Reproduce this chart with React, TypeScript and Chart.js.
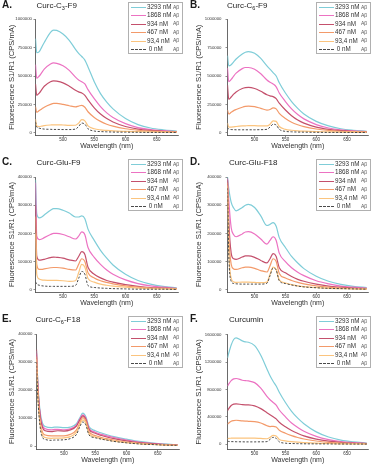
import React, { useEffect, useRef } from "react";
import { Chart, registerables } from "chart.js";
Chart.register(...registerables);

// ---------- data (fluorescence values in units of 1000 CPS/mA) ----------
const wavelengths = [456, 458, 462, 466, 470, 480, 485, 490, 500, 510, 520, 525, 530, 535, 540, 550, 560, 570, 580, 600, 620, 640, 660, 682];
const concLabels = ["3293 nM", "1868 nM", "934 nM", "467 nM", "93,4 nM", "0 nM"];
const seriesColors = ["#7fcdd8", "#ec72c2", "#c4506c", "#f39a6a", "#fbc47e", "#4a4a4a"];
const xTicks = [500, 550, 600, 650];
const yTicks1M = [0, 250000, 500000, 750000, 1000000];
const yTicks400k = [0, 100000, 200000, 300000, 400000];
const yTicks1600k = [0, 400000, 800000, 1200000, 1600000];

// A. Curc-C3-F9
const a3293 = [830, 705, 715, 755, 795, 885, 905, 902, 870, 815, 735, 700, 672, 640, 580, 450, 345, 270, 210, 125, 72, 42, 26, 15];
const a1868 = [600, 480, 500, 530, 560, 605, 615, 612, 590, 550, 490, 465, 450, 430, 380, 300, 230, 175, 135, 80, 45, 28, 18, 10];
const a934 = [430, 330, 350, 380, 410, 450, 458, 455, 440, 410, 375, 360, 350, 330, 290, 220, 165, 125, 95, 55, 32, 20, 13, 8];
const a467 = [230, 180, 195, 210, 225, 250, 258, 258, 250, 238, 228, 235, 242, 225, 185, 135, 100, 75, 58, 35, 22, 14, 9, 6];
const a93 = [120, 60, 55, 58, 62, 68, 70, 70, 68, 65, 66, 85, 115, 105, 60, 35, 25, 20, 16, 12, 9, 7, 5, 4];
const a0 = [95, 50, 40, 35, 32, 30, 29, 29, 28, 28, 32, 55, 85, 75, 35, 15, 10, 8, 6, 5, 4, 3, 3, 2];

// B. Curc-C6-F9
const b3293 = [680, 590, 600, 625, 650, 695, 710, 715, 700, 655, 590, 560, 530, 500, 440, 350, 275, 215, 165, 100, 60, 35, 22, 13];
const b1868 = [570, 450, 470, 500, 525, 565, 575, 575, 560, 520, 465, 445, 430, 405, 350, 275, 210, 160, 122, 72, 42, 25, 16, 10];
const b934 = [420, 295, 315, 340, 360, 390, 398, 400, 390, 365, 335, 325, 318, 300, 260, 200, 150, 112, 85, 50, 30, 18, 12, 8];
const b467 = [200, 165, 180, 195, 205, 225, 232, 235, 230, 215, 200, 205, 220, 210, 170, 125, 92, 70, 54, 33, 20, 13, 9, 6];
const b93 = [85, 50, 50, 52, 55, 60, 61, 62, 62, 60, 60, 75, 105, 100, 55, 30, 22, 17, 14, 10, 8, 6, 5, 4];
const b0 = [45, 32, 28, 27, 26, 26, 26, 26, 26, 27, 30, 50, 75, 68, 30, 12, 8, 6, 5, 4, 3, 3, 2, 2];

// C. Curc-Glu-F9
const c3293 = [390, 270, 255, 258, 265, 282, 288, 288, 282, 272, 258, 258, 262, 252, 215, 175, 140, 112, 88, 55, 33, 20, 12, 7];
const c1868 = [380, 190, 178, 180, 185, 196, 200, 200, 196, 188, 180, 190, 205, 195, 150, 115, 90, 70, 55, 35, 22, 14, 9, 5];
const c934 = [300, 120, 105, 106, 108, 114, 116, 115, 112, 106, 102, 118, 135, 125, 80, 55, 42, 33, 27, 18, 12, 8, 6, 4];
const c467 = [260, 90, 72, 72, 74, 78, 79, 79, 77, 72, 70, 90, 110, 100, 60, 42, 32, 26, 21, 14, 9, 6, 5, 3];
const c93 = [200, 55, 38, 35, 34, 33, 33, 33, 32, 30, 32, 60, 90, 80, 40, 27, 20, 16, 13, 9, 6, 4, 3, 2];
const c0 = [28, 20, 16, 14, 13, 12, 12, 12, 12, 12, 15, 40, 65, 55, 15, 8, 6, 5, 4, 3, 2, 2, 2, 1];

// D. Curc-Glu-F18
const d3293 = [400, 360, 310, 290, 280, 292, 300, 303, 292, 262, 228, 232, 238, 225, 185, 150, 118, 95, 75, 48, 30, 19, 12, 8];
const d1868 = [395, 320, 220, 195, 188, 198, 205, 206, 198, 180, 162, 175, 188, 175, 130, 100, 78, 62, 50, 32, 21, 13, 9, 6];
const d934 = [390, 250, 130, 110, 108, 116, 120, 120, 115, 104, 95, 110, 128, 118, 78, 60, 47, 37, 30, 20, 13, 9, 6, 4];
const d467 = [380, 200, 90, 74, 72, 78, 80, 80, 76, 68, 63, 85, 110, 100, 58, 42, 33, 26, 21, 14, 9, 6, 4, 3];
const d93 = [370, 150, 40, 28, 26, 27, 27, 27, 26, 25, 27, 55, 80, 72, 35, 24, 18, 14, 11, 8, 5, 4, 3, 2];
const d0 = [360, 130, 30, 22, 21, 20, 20, 20, 20, 20, 23, 50, 77, 70, 32, 22, 17, 13, 10, 7, 5, 4, 3, 2];

// E. Curc-C6-F18
const e3293 = [340, 230, 120, 80, 70, 66, 68, 68, 66, 68, 80, 100, 118, 105, 70, 55, 47, 40, 34, 25, 17, 12, 8, 5];
const e1868 = [330, 220, 110, 72, 62, 58, 60, 60, 58, 62, 75, 96, 112, 100, 64, 50, 42, 36, 31, 22, 15, 10, 7, 4];
const e934 = [345, 225, 105, 65, 55, 52, 54, 55, 54, 58, 72, 92, 108, 96, 60, 46, 38, 32, 27, 19, 13, 9, 6, 4];
const e467 = [320, 200, 85, 48, 40, 37, 37, 37, 37, 42, 58, 82, 102, 90, 52, 38, 31, 26, 22, 15, 10, 7, 5, 3];
const e93 = [310, 190, 75, 38, 31, 28, 29, 29, 30, 34, 50, 75, 94, 82, 45, 33, 27, 22, 18, 13, 9, 6, 4, 3];
const e0 = [300, 180, 65, 30, 24, 21, 22, 22, 23, 27, 42, 68, 86, 76, 40, 30, 25, 21, 17, 12, 8, 6, 4, 3];

// F. Curcumin
const f3293 = [1260, 1330, 1450, 1530, 1555, 1510, 1495, 1490, 1440, 1300, 1100, 1000, 920, 850, 760, 610, 480, 380, 300, 180, 105, 60, 35, 18];
const f1868 = [850, 880, 930, 955, 960, 935, 928, 925, 900, 820, 700, 650, 610, 570, 500, 400, 310, 245, 190, 115, 68, 40, 24, 13];
const f934 = [490, 520, 565, 585, 590, 578, 576, 575, 560, 520, 460, 430, 400, 370, 320, 255, 200, 158, 122, 75, 45, 27, 16, 9];
const f467 = [295, 310, 335, 345, 350, 340, 337, 335, 330, 310, 270, 258, 262, 250, 205, 160, 125, 98, 76, 47, 28, 17, 10, 6];
const f93 = [80, 85, 88, 90, 90, 90, 89, 89, 88, 84, 80, 100, 130, 120, 70, 50, 38, 30, 24, 15, 10, 6, 4, 3];
const f0 = [45, 40, 38, 37, 36, 35, 34, 34, 34, 35, 38, 70, 100, 85, 35, 15, 10, 8, 6, 5, 4, 3, 2, 2];

const FONT = '"Liberation Sans", Arial, sans-serif';

type PanelCfg = {
  letter: string;
  title: [string, string, string];
  left: number;
  top: number;
  yAxisWidth: number;
  padTop: number;
  padRight: number;
  yMin: number;
  yMax: number;
  yTicks: number[];
  series: number[][];
  titleX: number;
  letterX: number;
  tickPad: number;
};

const panels: PanelCfg[] = [
  { letter: "A.", title: ["Curc-C", "3", "-F9"], left: 0, top: 0, yAxisWidth: 35.5, padTop: 19.3, padRight: 9, yMin: -20000, yMax: 1000000, yTicks: yTicks1M, series: [a3293, a1868, a934, a467, a93, a0], titleX: 36.5, letterX: 2, tickPad: 1.5 },
  { letter: "B.", title: ["Curc-C", "6", "-F9"], left: 187, top: 0, yAxisWidth: 40.5, padTop: 19.3, padRight: 6, yMin: -20000, yMax: 1000000, yTicks: yTicks1M, series: [b3293, b1868, b934, b467, b93, b0], titleX: 40, letterX: 3, tickPad: 4 },
  { letter: "C.", title: ["Curc-Glu-F9", "", ""], left: 0, top: 157, yAxisWidth: 35.5, padTop: 20, padRight: 9, yMin: -8000, yMax: 400000, yTicks: yTicks400k, series: [c3293, c1868, c934, c467, c93, c0], titleX: 36.5, letterX: 2, tickPad: 1.5 },
  { letter: "D.", title: ["Curc-Glu-F18", "", ""], left: 187, top: 157, yAxisWidth: 40.5, padTop: 20, padRight: 6, yMin: -8000, yMax: 400000, yTicks: yTicks400k, series: [d3293, d1868, d934, d467, d93, d0], titleX: 42, letterX: 3, tickPad: 4 },
  { letter: "E.", title: ["Curc-C", "6", "-F18"], left: 0, top: 314, yAxisWidth: 36.5, padTop: 20, padRight: 8, yMin: -10000, yMax: 400000, yTicks: yTicks400k, series: [e3293, e1868, e934, e467, e93, e0], titleX: 35.5, letterX: 2, tickPad: 2 },
  { letter: "F.", title: ["Curcumin", "", ""], left: 187, top: 314, yAxisWidth: 40.5, padTop: 20.7, padRight: 6, yMin: -70000, yMax: 1600000, yTicks: yTicks1600k, series: [f3293, f1868, f934, f467, f93, f0], titleX: 42, letterX: 3, tickPad: 4 },
];

const PANEL_W = 187;
const PANEL_H = 157;

function Panel({ cfg }: { cfg: PanelCfg }) {
  const ref = useRef<HTMLCanvasElement | null>(null);
  useEffect(() => {
    if (!ref.current) return;
    const datasets = cfg.series.map((vals, i) => ({
      label: concLabels[i],
      data: wavelengths.map((w, j) => ({ x: w, y: vals[j] * 1000 })),
      borderColor: seriesColors[i],
      backgroundColor: seriesColors[i],
      borderWidth: i === 5 ? 1 : 1.2,
      borderDash: i === 5 ? [2.2, 1.6] : [],
      pointRadius: 0,
      fill: false,
      cubicInterpolationMode: "monotone" as const,
    }));
    const chart = new Chart(ref.current, {
      type: "line",
      data: { datasets: datasets.slice().reverse() },
      options: {
        animation: false,
        responsive: false,
        maintainAspectRatio: false,
        layout: { padding: { top: cfg.padTop, right: cfg.padRight, bottom: 0, left: 0 } },
        plugins: { legend: { display: false }, tooltip: { enabled: false } },
        scales: {
          x: {
            type: "linear",
            min: 456,
            max: 684,
            afterBuildTicks: (s: any) => {
              s.ticks = xTicks.map((v) => ({ value: v }));
            },
            afterFit: (s: any) => {
              s.height = 22;
            },
            ticks: { font: { size: 4.5, family: FONT }, color: "#333", padding: 0.5, maxRotation: 0, autoSkip: false, callback: (v: any) => String(v) },
            grid: { drawOnChartArea: false, drawTicks: true, tickLength: 2, color: "#444", lineWidth: 0.6 },
            border: { display: true, color: "#444", width: 0.8 },
            title: { display: true, text: "Wavelength (nm)", font: { size: 7, family: FONT }, color: "#333", padding: { top: 0, bottom: 6.3 } },
          },
          y: {
            type: "linear",
            min: cfg.yMin,
            max: cfg.yMax,
            afterBuildTicks: (s: any) => {
              s.ticks = cfg.yTicks.map((v) => ({ value: v }));
            },
            afterFit: (s: any) => {
              s.width = cfg.yAxisWidth;
            },
            ticks: { font: { size: 4.3, family: FONT }, color: "#333", padding: cfg.tickPad, autoSkip: false, callback: (v: any) => String(v) },
            grid: { drawOnChartArea: false, drawTicks: true, tickLength: 2, color: "#444", lineWidth: 0.6 },
            border: { display: true, color: "#444", width: 0.8 },
            title: { display: true, text: "Fluorescence S1/R1 (CPS/mA)", font: { size: 7.6, family: FONT }, color: "#333", padding: { top: 7.5, bottom: 0 } },
          },
        },
      },
    });
    return () => chart.destroy();
  }, [cfg]);

  const boxLeft = cfg.left === 0 ? 127.5 : 128.5;
  return (
    <div style={{ position: "absolute", left: cfg.left, top: cfg.top, width: PANEL_W, height: PANEL_H }}>
      <canvas ref={ref} width={PANEL_W} height={PANEL_H} style={{ position: "absolute", left: 0, top: 0, width: PANEL_W, height: PANEL_H }} />
      <div style={{ position: "absolute", left: cfg.letterX, top: -1, fontFamily: FONT, fontWeight: "bold", fontSize: 10, color: "#1a1a1a", lineHeight: "12px" }}>
        {cfg.letter}
      </div>
      <div style={{ position: "absolute", left: cfg.titleX, top: -0.5, fontFamily: FONT, fontSize: 8, color: "#222", lineHeight: "12px", whiteSpace: "nowrap" }}>
        {cfg.title[0]}
        {cfg.title[1] ? <sub style={{ fontSize: 5.5, verticalAlign: "-1.5px", lineHeight: 0 }}>{cfg.title[1]}</sub> : null}
        {cfg.title[2]}
      </div>
      <div
        style={{
          position: "absolute",
          left: boxLeft,
          top: 2,
          width: 55,
          height: 52,
          border: "1px solid #b0b0b0",
          boxSizing: "border-box",
          background: "#fff",
          fontFamily: FONT,
        }}
      >
        {concLabels.map((lab, i) => {
          const cy = 4 + i * 8.4;
          return (
            <React.Fragment key={lab}>
              <div
                style={{
                  position: "absolute",
                  left: 2,
                  top: cy,
                  width: 15,
                  height: 0,
                  borderTop: i === 5 ? `1px dashed ${seriesColors[i]}` : `1px solid ${seriesColors[i]}`,
                }}
              />
              <div style={{ position: "absolute", left: 18.5, top: cy - 4, fontSize: 6.3, lineHeight: "8px", color: "#333", whiteSpace: "nowrap" }}>
                {i === 5 ? "\u00a0" + lab : lab}
              </div>
              <div style={{ position: "absolute", left: 44.5, top: cy - 3.5, fontSize: 5, lineHeight: "7px", color: "#555", whiteSpace: "nowrap" }}>
                Aβ
              </div>
            </React.Fragment>
          );
        })}
      </div>
    </div>
  );
}

export default function App() {
  return (
    <div style={{ position: "absolute", left: 0, top: 0, width: 374, height: 471, background: "#fff", overflow: "hidden" }}>
      {panels.map((p) => (
        <Panel key={p.letter} cfg={p} />
      ))}
    </div>
  );
}
